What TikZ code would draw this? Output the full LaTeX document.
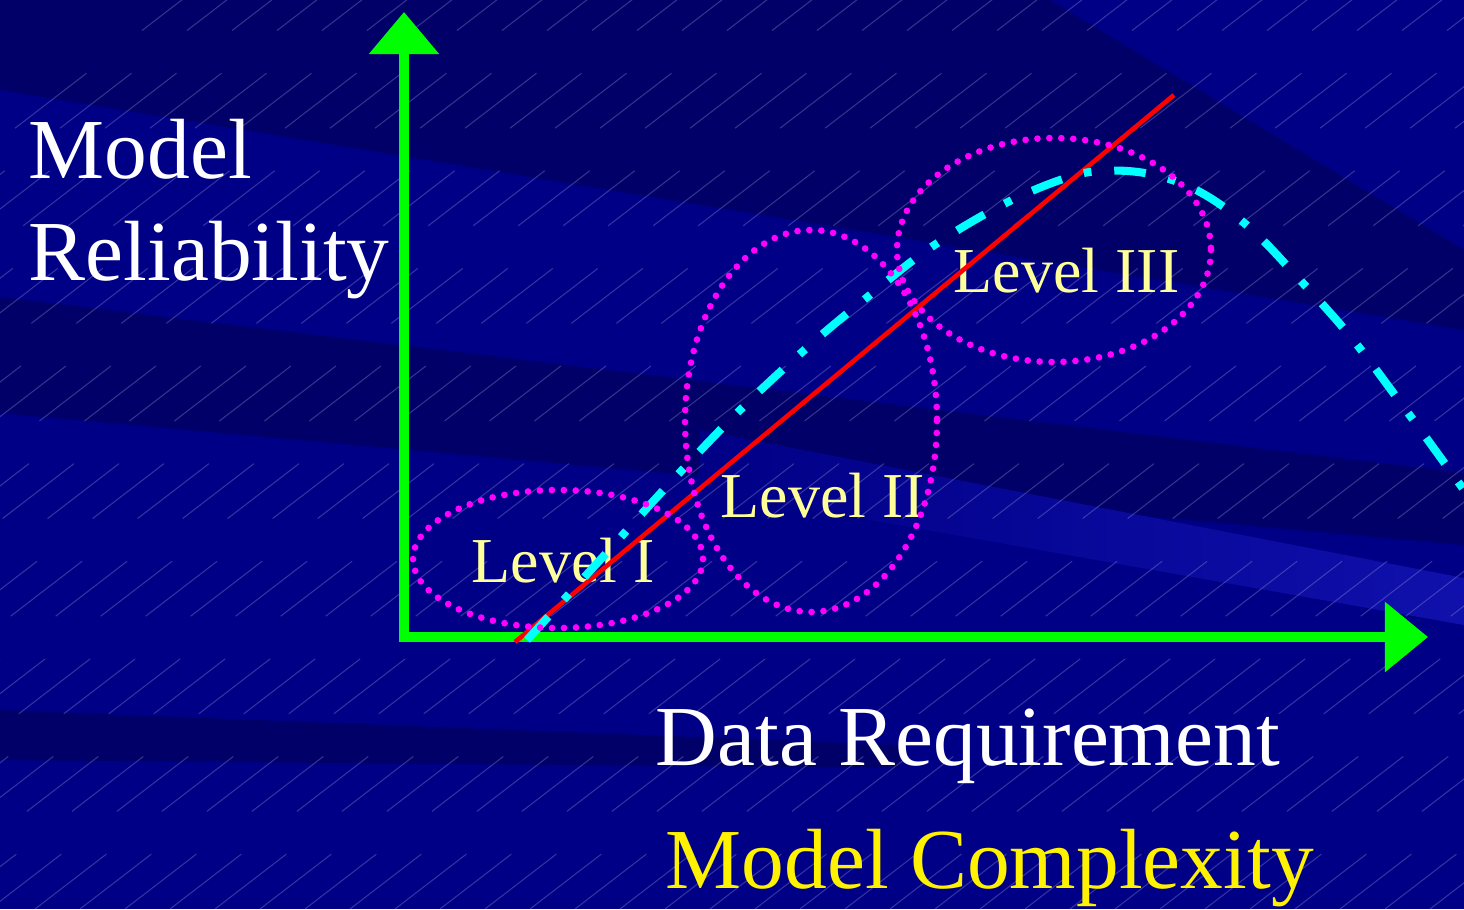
\documentclass[tikz,border=0pt]{standalone}
\usepackage{fontspec}
\setmainfont{Liberation Serif}
\usepackage{tikz}
\usetikzlibrary{arrows.meta}
\definecolor{slidebg}{RGB}{0,0,134}
\definecolor{banddark}{RGB}{0,0,104}
\definecolor{bandlight}{RGB}{16,16,172}
\definecolor{hatchgray}{RGB}{150,150,210}
\definecolor{axisgreen}{RGB}{0,255,0}
\definecolor{curvecyan}{RGB}{0,255,255}
\definecolor{ringmagenta}{RGB}{255,0,255}
\definecolor{levelyellow}{RGB}{255,255,153}

\begin{document}
\begin{tikzpicture}[x=0.01cm, y=-0.01cm,
    axisline/.style={line width=2.6pt, axisgreen, line join=miter},
    trendline/.style={line width=1.3pt, red},
    fitcurve/.style={line width=2.3pt, curvecyan, dash pattern=on 9pt off 6.5pt on 2.2pt off 6.5pt},
    levelring/.style={line width=1.9pt, ringmagenta, line cap=round, dash pattern=on 0pt off 3.4pt},
    levellabel/.style={inner sep=0pt, anchor=base west, levelyellow, font=\fontsize{18.2}{22}\selectfont},
    titletext/.style={inner sep=0pt, anchor=base west, white, font=\fontsize{24.3}{29}\selectfont}]

    % slide background with streaks
    \useasboundingbox (0,0) rectangle (1464,909);
    \fill[slidebg] (0,0) rectangle (1464,909);
    \fill[banddark] (0,0) -- (1050,0) -- (1464,250) -- (1464,330) -- (0,90) -- cycle;
    \fill[banddark] (0,297) -- (1464,473) -- (1464,545) -- (0,413) -- cycle;
    \shade[left color=slidebg, right color=bandlight] (700,430) -- (1464,578) -- (1464,625) -- (700,490) -- cycle;
    \fill[banddark] (0,710) -- (900,745) -- (900,768) -- (0,760) -- cycle;
    \begin{scope}
        \clip (0,0) rectangle (1464,909);
        \foreach \k in {0,...,60}
            \draw[hatchgray, opacity=0.35, line width=0.3pt, dash pattern=on 0.9cm off 0.7cm] ({\k*45-1000},909) -- ++(1300,-1000);
    \end{scope}

    % axes
    \coordinate (ytip) at (404,12);
    \coordinate (xtip) at (1428,637);
    \draw[axisline, {Triangle[length=0.42cm,width=0.68cm]}-{Triangle[length=0.43cm,width=0.68cm]}] (ytip) |- (xtip);

    % axis titles
    \node[titletext] (relA) at (28,178) {Model};
    \node[titletext] (relB) at (28,280) {Reliability};
    \node[titletext] (datareq) at (655,765) {Data Requirement};
    \node[titletext, yellow] (complex) at (665,888) {Model Complexity};

    % level labels
    \node[levellabel] (lvlI) at (471,582) {Level I};
    \node[levellabel] (lvlII) at (720,517) {Level II};
    \node[levellabel] (lvlIII) at (953,292) {Level III};

    % red trend line
    \draw[trendline] (515,642) -- (1174,95);

    % cyan dash-dot curve
    \draw[fitcurve] plot[smooth, tension=0.6] coordinates {(527,640) (600,560) (670,483) (740,410) (810,345) (870,295) (930,248) (1000,206) (1060,180) (1100,171) (1150,174) (1200,192) (1250,228) (1300,280) (1350,336) (1400,402) (1464,490)};

    % dotted level rings
    \draw[levelring] (558,559) ellipse [x radius=145, y radius=69];
    \draw[levelring] (811,421) ellipse [x radius=126, y radius=191];
    \draw[levelring] (1054,250) ellipse [x radius=157, y radius=112];

\end{tikzpicture}
\end{document}
